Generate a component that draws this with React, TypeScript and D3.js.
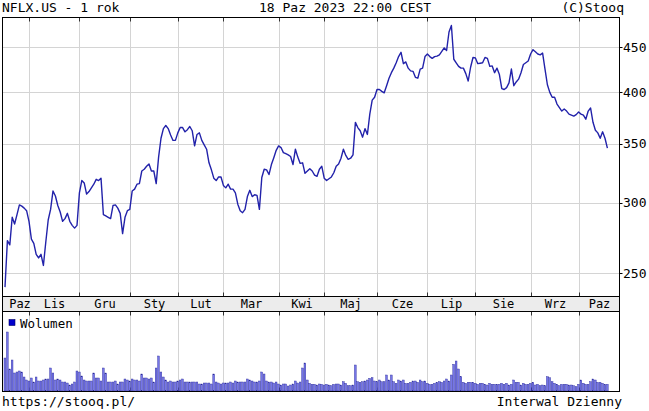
import React from 'react';
import * as d3 from 'd3';

// trading day index (0 = 18 Oct 2022) and close price
const closes: [number, number][] = [
  [0, 241], [1, 272], [2, 269], [3, 289], [4, 284], [5, 291], [6, 298.5], [7, 297.5], [8, 296], [9, 294],
  [10, 286], [11, 273], [12, 270], [13, 262.5], [14, 260], [15, 262.5], [16, 255], [17, 271], [18, 287], [19, 295],
  [20, 309.5], [21, 305.5], [22, 298], [23, 293], [24, 286], [25, 288], [26, 292], [27, 286], [28, 283], [29, 281],
  [30, 283], [31, 308], [32, 318], [33, 316], [34, 307], [35, 309], [36, 312], [37, 315], [38, 319], [39, 318],
  [40, 320], [41, 291], [42, 290], [43, 289], [44, 288], [45, 298], [46, 298.5], [47, 296], [48, 292], [49, 277],
  [50, 289], [51, 294], [52, 295], [53, 309.5], [54, 311], [55, 315], [56, 315.5], [57, 326], [58, 327.5], [59, 330],
  [60, 332], [61, 326], [62, 326], [63, 315.5], [64, 338], [65, 355], [66, 364], [67, 367], [68, 364], [69, 358],
  [70, 353], [71, 353], [72, 360], [73, 365], [74, 365], [75, 361], [76, 363], [77, 366], [78, 362], [79, 348],
  [80, 358.5], [81, 360], [82, 353], [83, 349], [84, 345], [85, 333], [86, 327], [87, 320], [88, 318], [89, 321],
  [90, 321], [91, 314], [92, 312], [93, 315], [94, 311], [95, 311], [96, 308], [97, 299], [98, 294], [99, 292.5],
  [100, 295], [101, 305], [102, 310], [103, 305], [104, 306.5], [105, 306], [106, 295], [107, 320.5], [108, 327.5], [109, 327],
  [110, 323], [111, 331.5], [112, 337.5], [113, 344], [114, 348], [115, 346.5], [116, 342], [117, 341], [118, 340], [119, 338.5],
  [120, 331.5], [121, 345], [122, 338], [123, 332.5], [124, 333], [125, 324], [126, 326], [127, 328], [128, 326], [129, 322.5],
  [130, 321.5], [131, 327.5], [132, 330], [133, 320], [134, 318], [135, 319.5], [136, 321], [137, 324.5], [138, 330], [139, 332],
  [140, 337], [141, 345], [142, 339.5], [143, 336], [144, 337], [145, 340], [146, 370], [147, 365], [148, 362], [149, 356],
  [150, 364], [151, 358.5], [152, 378], [153, 392], [154, 395], [155, 403], [156, 403], [157, 401], [158, 399.5], [159, 407],
  [160, 415], [161, 421], [162, 426], [163, 432], [164, 439], [165, 444], [166, 431], [167, 433], [168, 426], [169, 423],
  [170, 422.5], [171, 416], [172, 415], [173, 425], [174, 426], [175, 439], [176, 442], [177, 439], [178, 437], [179, 439],
  [180, 439.5], [181, 441], [182, 445], [183, 449], [184, 446], [185, 468], [186, 476], [187, 436], [188, 432], [189, 428],
  [190, 426], [191, 426], [192, 420], [193, 412], [194, 427], [195, 438], [196, 437.5], [197, 431], [198, 431.5], [199, 432],
  [200, 438], [201, 437], [202, 428], [203, 428.5], [204, 421], [205, 426], [206, 419], [207, 404], [208, 403], [209, 405],
  [210, 410], [211, 425], [212, 407], [213, 411], [214, 414], [215, 421], [216, 430], [217, 432], [218, 434], [219, 442],
  [220, 447], [221, 444.5], [222, 442], [223, 441], [224, 443], [225, 425], [226, 408], [227, 400], [228, 395], [229, 395],
  [230, 388], [231, 384.5], [232, 381], [233, 383], [234, 381], [235, 378], [236, 377], [237, 376], [238, 377.5], [239, 380],
  [240, 378], [241, 377], [242, 373], [243, 381], [244, 384], [245, 370], [246, 362.5], [247, 360], [248, 355], [249, 361],
  [250, 355], [251, 346],
];

// daily volume, mln shares (one per trading day, same index as closes)
const volumes: number[] = [
  33, 59, 22, 31, 18, 19, 20, 19, 14, 11, 10, 13, 9, 14, 10, 10, 11, 12, 12, 23,
  18, 11, 12, 11, 9, 9, 8, 6, 7, 9, 20, 19, 15, 11, 10, 10, 10, 18, 13, 13,
  10, 23, 18, 9, 9, 9, 10, 7, 9, 9, 12, 11, 10, 12, 11, 11, 10, 17, 13, 13,
  12, 13, 9, 23, 35, 19, 14, 11, 9, 10, 9, 9, 10, 11, 12, 9, 9, 9, 9, 9,
  9, 7, 7, 8, 8, 8, 7, 17, 9, 8, 7, 8, 8, 8, 9, 8, 10, 9, 9, 9,
  9, 12, 11, 10, 9, 9, 10, 19, 17, 10, 9, 9, 8, 9, 7, 6, 7, 7, 5, 6,
  7, 10, 8, 9, 23, 28, 11, 7.7, 6.7, 6.7, 6, 7, 6.7, 6, 6.7, 6, 5.3, 6.7, 7, 7,
  6, 9.3, 7.7, 5.3, 5.3, 6, 26, 9.3, 8.7, 9.3, 10, 11, 12.7, 13.3, 10, 9.3, 11, 9.3, 9.3, 16,
  11, 16, 9.3, 7.7, 11, 10, 11, 7.7, 7.7, 8.7, 10, 10, 8.7, 11, 9.3, 10, 7.7, 6.7, 6.7, 7.7,
  8.7, 9.3, 8.7, 10, 12, 10, 16, 26.7, 30, 22, 14.3, 8.7, 7.7, 8.7, 8.7, 8.7, 7.7, 6.7, 7.7, 7.7,
  6.7, 6, 7.7, 6.7, 6.7, 6.7, 6.7, 7.7, 6.7, 7.7, 6, 6.7, 11, 8.7, 8.7, 6, 7.7, 6.7, 6.7, 7.7,
  8.7, 6, 6.7, 5.3, 6, 5.3, 14.3, 13.3, 9.3, 7.7, 6.7, 5.3, 6.7, 6.7, 6.7, 6, 6, 5.3, 4.3, 6.7,
  11, 7.7, 6.7, 6.7, 9.3, 12, 11, 8.7, 8.7, 7.7, 6.7, 6.7,
];

// first trading day of each month (Lis .. Paz 2023)
const monthStarts = [10, 31, 52, 72, 91, 114, 133, 155, 176, 196, 219, 239];
const monthLabels = ['Paz', 'Lis', 'Gru', 'Sty', 'Lut', 'Mar', 'Kwi', 'Maj', 'Cze', 'Lip', 'Sie', 'Wrz', 'Paz'];
const priceTicks = [250, 300, 350, 400, 450];

const W = 649;
const H = 411;
const left = 2.5;
const right = 619.5;
const top = 17.5;
const priceBottom = 296.5;
const bandBottom = 311.5;
const volBottom = 391.5;
const font = '"DejaVu Sans Mono", monospace';

const App: React.FC = () => {
  const x = d3.scaleLinear().domain([-1, 256]).range([2.6, 619.4]);
  const y = d3.scaleLog().domain([235.5, 486]).range([296, 17.5]);
  const yVol = d3.scaleLinear().domain([0, 80]).range([391, 311]);

  const line = d3.line<[number, number]>()
    .x(d => x(d[0]))
    .y(d => y(d[1]));

  const crisp = (v: number) => Math.round(v) + 0.5;
  const gridX = monthStarts.map(m => crisp(x(m)));
  const bounds = [left, ...gridX, right];

  return (
    <svg width={W} height={H} style={{ position: 'absolute', left: 0, top: 0, background: '#fff' }}
      fontFamily={font}>
      <defs>
        <clipPath id="pclip">
          <rect x={left} y={top} width={right - left} height={priceBottom - top} />
        </clipPath>
      </defs>

      {/* header */}
      <text x={2} y={12} fontSize={13} fill="#000">NFLX.US - 1 rok</text>
      <text x={259} y={12} fontSize={13} fill="#000">18 Paz 2023 22:00 CEST</text>
      <text x={624} y={12} fontSize={13} fill="#000" textAnchor="end">(C)Stooq</text>

      {/* band with month names */}
      <rect x={left} y={priceBottom} width={right - left} height={bandBottom - priceBottom} fill="#ececec" />

      {/* grid */}
      {gridX.map((gx, i) => (
        <g key={'gx' + i} stroke="#d4d4d4" strokeWidth={1}>
          <line x1={gx} x2={gx} y1={top} y2={priceBottom} />
          <line x1={gx} x2={gx} y1={bandBottom} y2={volBottom} />
        </g>
      ))}
      {priceTicks.map(t => (
        <line key={'gy' + t} x1={left} x2={right} y1={crisp(y(t))} y2={crisp(y(t))} stroke="#d4d4d4" />
      ))}

      {/* month ticks */}
      {gridX.map((gx, i) => (
        <g key={'tk' + i} stroke="#333" strokeWidth={1}>
          <line x1={gx} x2={gx} y1={top} y2={top + 4} />
          <line x1={gx} x2={gx} y1={priceBottom - 4} y2={priceBottom} />
          <line x1={gx} x2={gx} y1={bandBottom} y2={bandBottom + 4} />
          <line x1={gx} x2={gx} y1={volBottom - 4} y2={volBottom} />
        </g>
      ))}

      {/* month labels */}
      {monthLabels.map((m, i) => {
        const c = (bounds[i] + bounds[i + 1]) / 2;
        return (
          <text key={'m' + i} x={i === 0 ? Math.max(c, left + 17.5) : c} y={308} fontSize={12}
            textAnchor="middle" fill="#000">{m}</text>
        );
      })}

      {/* price line */}
      <path d={line(closes) || ''} fill="none" stroke="#2222aa" strokeWidth={1.4}
        strokeLinejoin="round" clipPath="url(#pclip)" />

      {/* volume */}
      {volumes.map((v, i) => (
        <rect key={'v' + i} x={x(i) - 1} y={yVol(v)} width={1.8} height={yVol(0) - yVol(v)}
          fill="#7575e8" stroke="#2a2a99" strokeWidth={0.4} />
      ))}
      <rect x={9} y={319.5} width={6} height={6} fill="#0000cc" stroke="#000066" strokeWidth={0.6} />
      <text x={20} y={327.5} fontSize={12.5} fill="#000">Wolumen</text>

      {/* frames */}
      <g fill="none" stroke="#000" strokeWidth={1}>
        <rect x={left} y={top} width={right - left} height={priceBottom - top} />
        <rect x={left} y={priceBottom} width={right - left} height={bandBottom - priceBottom} />
        <rect x={left} y={bandBottom} width={right - left} height={volBottom - bandBottom} />
      </g>

      {/* right axis */}
      {priceTicks.map(t => (
        <g key={'ry' + t}>
          <line x1={right} x2={right + 3} y1={crisp(y(t))} y2={crisp(y(t))} stroke="#000" />
          <text x={623} y={y(t) + 4.5} fontSize={13} fill="#000">{t}</text>
        </g>
      ))}

      {/* footer */}
      <text x={2} y={406} fontSize={13} fill="#000">https://stooq.pl/</text>
      <text x={622} y={406} fontSize={13} fill="#000" textAnchor="end">Interwal Dzienny</text>
    </svg>
  );
};

export default App;
